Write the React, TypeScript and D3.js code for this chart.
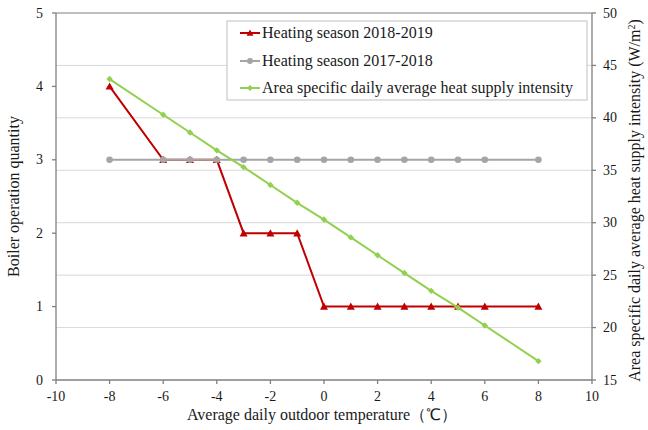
import React from "react";
import * as d3 from "d3";

const temps = [-8, -6, -5, -4, -3, -2, -1, 0, 1, 2, 3, 4, 5, 6, 8];
const boilers2018 = [4, 3, 3, 3, 2, 2, 2, 1, 1, 1, 1, 1, 1, 1, 1];
const boilers2017 = [3, 3, 3, 3, 3, 3, 3, 3, 3, 3, 3, 3, 3, 3, 3];
const heatIntensity = [43.7, 40.3, 38.6, 36.9, 35.3, 33.6, 31.9, 30.3, 28.6, 26.9, 25.2, 23.5, 21.9, 20.2, 16.8];
const xTicks = [-10, -8, -6, -4, -2, 0, 2, 4, 6, 8, 10];
const yLeftTicks = [0, 1, 2, 3, 4, 5];
const yRightTicks = [15, 20, 25, 30, 35, 40, 45, 50];
const legendLabels = [
  "Heating season 2018-2019",
  "Heating season 2017-2018",
  "Area specific daily average heat supply intensity",
];

const W = 648, H = 430;
const L = 56, R = 592, T = 13, B = 380;
const FONT = '"Liberation Serif", "Times New Roman", serif';
const TS = { fontFamily: FONT };
const RED = "#c00000", GRAY = "#a5a5a5", GREEN = "#92d050", AXIS = "#7f7f7f", TXT = "#1a1a1a";

export default function App() {
  const x = d3.scaleLinear().domain([-10, 10]).range([L, R]);
  const yl = d3.scaleLinear().domain([0, 5]).range([B, T]);
  const yr = d3.scaleLinear().domain([15, 50]).range([B, T]);

  const lineL = (vals: number[]) =>
    d3.line<number>().x((_, i) => x(temps[i])).y((v) => yl(v))(vals) || "";
  const lineR = d3.line<number>().x((_, i) => x(temps[i])).y((v) => yr(v))(heatIntensity) || "";

  const tri = (cx: number, cy: number, s = 4) =>
    `M${cx},${cy - s}L${cx + s},${cy + s * 0.8}L${cx - s},${cy + s * 0.8}Z`;
  const diamond = (cx: number, cy: number, s = 3.2) =>
    `M${cx},${cy - s}L${cx + s},${cy}L${cx},${cy + s}L${cx - s},${cy}Z`;

  const legX = 227, legY = 21, legW = 360, legH = 79;
  const legRows = [33, 61, 88];

  return (
    <svg width={W} height={H} style={{ position: "absolute", left: 0, top: 0, background: "#fff" }}>
      <rect x={0} y={0} width={W} height={H} fill="#fff" />
      {yRightTicks.filter((t) => t > 15 && t < 50).map((t) => (
        <line key={t} x1={L} x2={R} y1={yr(t)} y2={yr(t)} stroke="#d9d9d9" strokeWidth={1} />
      ))}
      <line x1={L} x2={R} y1={T} y2={T} stroke={AXIS} strokeWidth={1} />
      <line x1={L} x2={L} y1={T} y2={B} stroke={AXIS} strokeWidth={1.3} />
      <line x1={R} x2={R} y1={T} y2={B} stroke={AXIS} strokeWidth={1.3} />
      <line x1={L} x2={R} y1={B} y2={B} stroke={AXIS} strokeWidth={1.3} />
      {xTicks.map((t) => (
        <g key={t}>
          <line x1={x(t)} x2={x(t)} y1={B} y2={B + 4} stroke={AXIS} strokeWidth={1.3} />
          <text x={x(t)} y={401} fontSize={14} textAnchor="middle" fill={TXT} style={TS}>{t}</text>
        </g>
      ))}
      {yLeftTicks.map((t) => (
        <g key={t}>
          <line x1={L - 4} x2={L} y1={yl(t)} y2={yl(t)} stroke={AXIS} strokeWidth={1.3} />
          <text x={L - 13} y={yl(t) + 4.5} fontSize={14} textAnchor="end" fill={TXT} style={TS}>{t}</text>
        </g>
      ))}
      {yRightTicks.map((t) => (
        <g key={t}>
          <line x1={R} x2={R + 4} y1={yr(t)} y2={yr(t)} stroke={AXIS} strokeWidth={1.3} />
          <text x={R + 11} y={yr(t) + 4.5} fontSize={14} textAnchor="start" fill={TXT} style={TS}>{t}</text>
        </g>
      ))}
      <text x={322} y={420} fontSize={16} textAnchor="middle" fill={TXT} style={TS}>Average daily outdoor temperature（℃）</text>
      <text transform={`translate(19,${(T + B) / 2}) rotate(-90)`} fontSize={16} textAnchor="middle" fill={TXT} style={TS}>Boiler operation quantity</text>
      <text transform={`translate(640,${(T + B) / 2 + 4}) rotate(-90)`} fontSize={16} textAnchor="middle" fill={TXT} style={TS}>
        Area specific daily average heat supply intensity (W/m<tspan dy={-5} fontSize={10}>2</tspan><tspan dy={5}>)</tspan>
      </text>
      <path d={lineL(boilers2018)} fill="none" stroke={RED} strokeWidth={2} />
      {boilers2018.map((v, i) => (
        <path key={i} d={tri(x(temps[i]), yl(v))} fill={RED} />
      ))}
      <path d={lineL(boilers2017)} fill="none" stroke={GRAY} strokeWidth={2} />
      {boilers2017.map((v, i) => (
        <circle key={i} cx={x(temps[i])} cy={yl(v)} r={3.3} fill={GRAY} />
      ))}
      <path d={lineR} fill="none" stroke={GREEN} strokeWidth={2} />
      {heatIntensity.map((v, i) => (
        <path key={i} d={diamond(x(temps[i]), yr(v))} fill={GREEN} />
      ))}
      <rect x={legX} y={legY} width={legW} height={legH} fill="#fff" stroke="#bfbfbf" strokeWidth={1} />
      {legendLabels.map((lab, i) => {
        const cy = legRows[i];
        const col = [RED, GRAY, GREEN][i];
        return (
          <g key={lab}>
            <line x1={240} x2={260} y1={cy} y2={cy} stroke={col} strokeWidth={2} />
            {i === 0 && <path d={tri(250, cy, 3.5)} fill={col} />}
            {i === 1 && <circle cx={250} cy={cy} r={3} fill={col} />}
            {i === 2 && <path d={diamond(250, cy, 3)} fill={col} />}
            <text x={262} y={cy + 5} fontSize={16} fill={TXT} style={TS}>{lab}</text>
          </g>
        );
      })}
    </svg>
  );
}
